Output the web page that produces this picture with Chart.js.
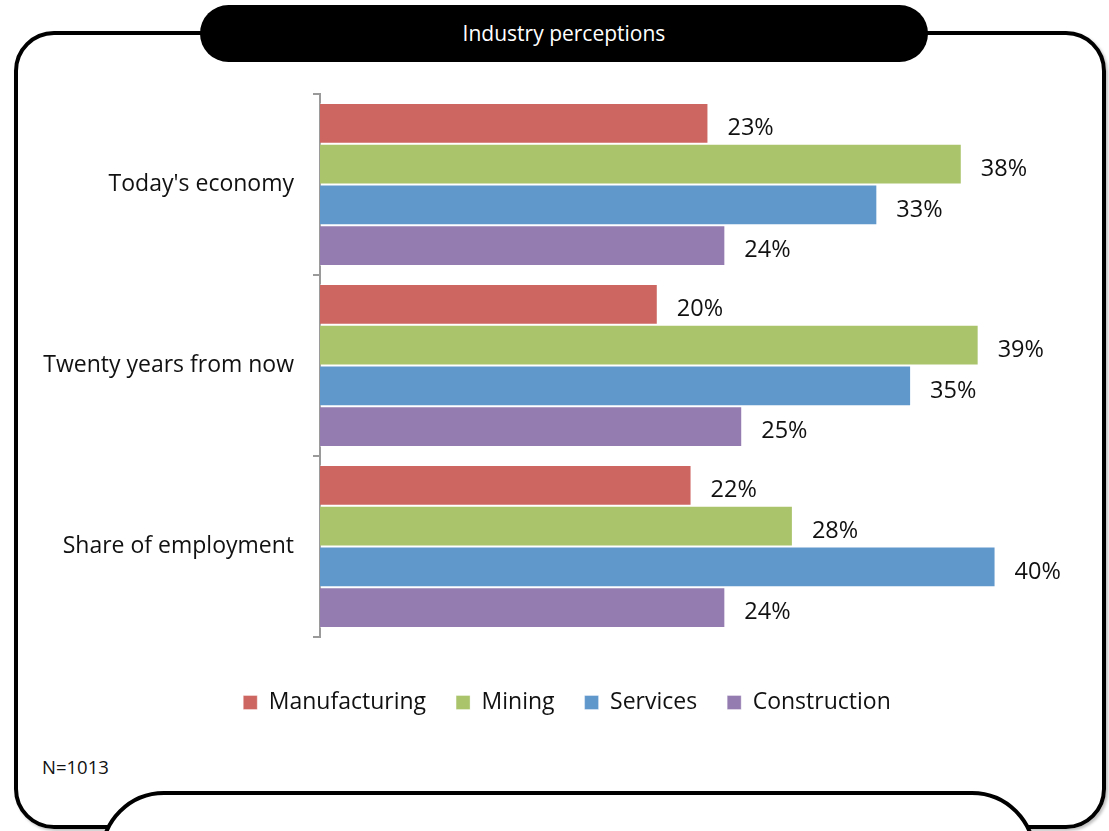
<!DOCTYPE html>
<html>
<head>
<meta charset="utf-8">
<script src="https://cdn.jsdelivr.net/npm/chart.js@4/dist/chart.umd.min.js"></script>
<style>
  html, body { margin: 0; padding: 0; background: #fff; }
  #stage { position: relative; width: 1109px; height: 831px; overflow: hidden; background: #fff;
           font-family: "Open Sans", sans-serif; }
  .frame { position: absolute; left: 14px; top: 31px; width: 1084px; height: 790px;
           border: 4px solid #000; border-radius: 40px; box-shadow: 2px 2px 3px rgba(0,0,0,0.25); }
  .pill { position: absolute; left: 200px; top: 5px; width: 728px; height: 57px; background: #000;
          border-radius: 29px; color: #fff; font-size: 21px; line-height: 57px; text-align: center; }
  .note { position: absolute; left: 42px; top: 754px; font-size: 18.5px; color: #111; }
  .footbox { position: absolute; left: 100px; top: 791px; width: 928px; height: 120px; background: #fff;
             border: 4px solid #000; border-radius: 75px; }
  canvas { position: absolute; left: 0; top: 0; }
</style>
</head>
<body>
<div id="stage">
  <div class="frame"></div>
  <div class="pill">Industry perceptions</div>
  <div class="note">N=1013</div>
  <div class="footbox"></div>
  <canvas id="chart" width="1109" height="831"></canvas>
</div>
<script>
// Question topics (one group of bars each)
const categories = ["Today's economy", "Twenty years from now", "Share of employment"];

// Percentage of respondents choosing each industry
const manufacturing = [23, 20, 22];
const mining        = [38, 39, 28];
const services      = [33, 35, 40];
const construction  = [24, 25, 24];

const seriesNames = ["Manufacturing", "Mining", "Services", "Construction"];
const seriesValues = [manufacturing, mining, services, construction];
const seriesColors = ["#CD6660", "#AAC46C", "#6198CC", "#947CB1"];

const FONT = "'Open Sans', sans-serif";

// Writes the percentage just past the end of every bar
const valueLabels = {
  id: 'valueLabels',
  afterDatasetsDraw(chart) {
    const ctx = chart.ctx;
    ctx.save();
    ctx.font = "23.5px " + FONT;
    ctx.fillStyle = "#111";
    ctx.textAlign = "left";
    ctx.textBaseline = "middle";
    chart.data.datasets.forEach((ds, i) => {
      chart.getDatasetMeta(i).data.forEach((bar, j) => {
        ctx.fillText(ds.data[j] + "%", bar.x + 19, bar.y + 5);
      });
    });
    ctx.restore();
  }
};

// Nudges the legend box so its row is centred a little right of the canvas middle
const legendShift = {
  id: 'legendShift',
  afterLayout(chart) {
    if (chart.legend) chart.legend.left += 54;
  }
};

new Chart(document.getElementById('chart'), {
  type: 'bar',
  data: {
    labels: categories,
    datasets: seriesNames.map((name, i) => ({
      label: name,
      data: seriesValues[i],
      backgroundColor: seriesColors[i],
      borderColor: 'rgba(255,255,255,0.35)',
      borderWidth: 1,
      categoryPercentage: 0.9,
      barPercentage: 1.0
    }))
  },
  options: {
    indexAxis: 'y',
    responsive: false,
    animation: false,
    layout: { padding: { top: 94, right: 29, bottom: 107, left: 0 } },
    scales: {
      x: {
        min: 0, max: 45,
        grid: { display: false },
        border: { display: false },
        ticks: { display: false },
        afterFit(scale) { scale.height = 24; }
      },
      y: {
        offset: true,
        grid: { offset: true, drawOnChartArea: false, tickLength: 7, color: '#9a9a9a', lineWidth: 2 },
        border: { color: '#9a9a9a', width: 2 },
        ticks: { color: '#111', font: { size: 23, family: FONT }, padding: 19 },
        afterFit(scale) { scale.width = 320; }
      }
    },
    plugins: {
      legend: {
        position: 'bottom',
        labels: {
          color: '#111',
          font: { size: 23, family: FONT },
          boxWidth: 14, boxHeight: 14,
          padding: 30
        }
      },
      tooltip: { enabled: false }
    }
  },
  plugins: [valueLabels, legendShift]
});
</script>
</body>
</html>
